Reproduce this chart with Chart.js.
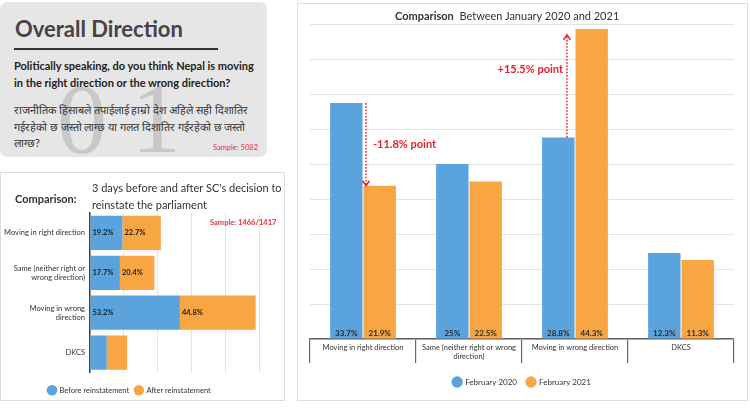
<!DOCTYPE html>
<html>
<head>
<meta charset="utf-8">
<script src="https://cdn.jsdelivr.net/npm/chart.js@4.4.1/dist/chart.umd.min.js"></script>
<style>
body { margin:0; width:750px; height:414px; background:#fff; position:relative; overflow:hidden; font-family:Lato, "DejaVu Sans", sans-serif; color:#333; }
.abs { position:absolute; white-space:nowrap; z-index:2; }
#card { position:absolute; left:0; top:2px; width:267px; height:155px; background:#e6e6e6; border-radius:7px; overflow:hidden; }
#big01 { position:absolute; left:0; top:0; z-index:1; }
.box { position:absolute; border:1.5px solid #dcdcdc; box-sizing:border-box; }
canvas { position:absolute; }
</style>
</head>
<body>
<div id="card">
  <svg id="big01" width="267" height="155"><text x="57" y="150" font-family="Liberation Serif, DejaVu Serif, serif" font-size="100" fill="#c8c8c8" textLength="124" lengthAdjust="spacing">01</text></svg>
  <div class="abs" style="left:15px;top:13px;font-size:22px;font-weight:700;color:#444;">Overall Direction</div>
  <div class="abs" style="left:14px;top:45.5px;width:204px;height:2.5px;background:#333;"></div>
  <div class="abs" style="left:14px;top:56px;font-size:11px;font-weight:700;line-height:16.5px;color:#222;">Politically speaking, do you think Nepal is moving<br>in the right direction or the wrong direction?</div>
  <div class="abs" style="left:14px;top:100px;font-size:11px;line-height:16.5px;color:#333;">राजनीतिक हिसाबले तपाईलाई हाम्रो देश अहिले सही दिशातिर<br>गईरहेको छ जस्तो लाग्छ या गलत दिशातिर गईरहेको छ जस्तो<br>लाग्छ?</div>
  <div class="abs" style="right:9px;top:141px;font-size:7.5px;color:#e8303c;">Sample: 5082</div>
</div>

<div class="box" style="left:0;top:172px;width:285px;height:229px;"></div>
<div class="abs" style="left:15px;top:192px;font-size:11px;font-weight:700;color:#333;">Comparison:</div>
<div class="abs" style="left:92px;top:180px;font-size:11px;line-height:16.5px;color:#333;">3 days before and after SC's decision to<br>reinstate the parliament</div>
<div class="abs" style="left:210px;top:218px;font-size:7.5px;font-weight:700;color:#e8303c;">Sample: 1466/1417</div>
<canvas id="sc" width="285" height="232" style="left:0;top:172px;"></canvas>

<div class="box" style="left:297px;top:3px;width:451px;height:398px;"></div>
<div class="abs" style="left:395px;top:9px;font-size:11px;color:#333;"><b>Comparison</b>&nbsp;&nbsp;Between January 2020 and 2021</div>
<canvas id="yr" width="451" height="397" style="left:297px;top:3px;"></canvas>

<script>
// right chart: February 2020 vs February 2021
const yrCats = ['Moving in right direction', ['Same (neither right or wrong', 'direction)'], 'Moving in wrong direction', 'DKCS'];
const feb2020 = [33.7, 25, 28.8, 12.3];
const feb2021 = [21.9, 22.5, 44.3, 11.3];
const yrTicks = [0, 5, 10, 15, 20, 25, 30, 35, 40, 45];
const shifts = [{cat: 0, text: '-11.8% point'}, {cat: 2, text: '+15.5% point'}];

// left chart: before / after SC decision
const scCats = ['Moving in right direction', ['Same (neither right or', 'wrong direction)'], ['Moving in wrong', 'direction'], 'DKCS'];
const beforeSC = [19.2, 17.7, 53.2, 9.9];
const afterSC = [22.7, 20.4, 44.8, 12.1];
const scShowVal = [true, true, true, false];

const BLUE = '#5ba3dc', ORANGE = '#f8a543', RED = '#e8202a';
Chart.defaults.font.family = 'Lato, "DejaVu Sans", sans-serif';
Chart.defaults.color = '#333';

const bottomVals = {
  id: 'bottomVals',
  afterDatasetsDraw(chart) {
    const ctx = chart.ctx;
    ctx.save();
    ctx.font = 'bold 8px Lato';
    ctx.fillStyle = '#2a2a2a';
    ctx.textAlign = 'center';
    ctx.textBaseline = 'middle';
    chart.data.datasets.forEach((ds, i) => {
      chart.getDatasetMeta(i).data.forEach((bar, j) => {
        ctx.fillText(ds.data[j] + '%', bar.x, chart.chartArea.bottom - 6);
      });
    });
    ctx.restore();
  }
};

function dotArrow(ctx, x, y0, y1) {
  ctx.beginPath();
  ctx.setLineDash([1.6, 1.6]);
  ctx.moveTo(x, y0);
  ctx.lineTo(x, y1);
  ctx.stroke();
  ctx.setLineDash([]);
  const d = y1 > y0 ? -1 : 1;
  ctx.beginPath();
  ctx.moveTo(x - 3.5, y1 + d * 5);
  ctx.lineTo(x, y1);
  ctx.lineTo(x + 3.5, y1 + d * 5);
  ctx.stroke();
}

const shiftArrows = {
  id: 'shiftArrows',
  afterDatasetsDraw(chart) {
    const ctx = chart.ctx;
    const b = chart.getDatasetMeta(0).data, o = chart.getDatasetMeta(1).data;
    ctx.save();
    ctx.strokeStyle = RED;
    ctx.fillStyle = RED;
    ctx.lineWidth = 1.5;
    ctx.font = 'bold 11px Lato';
    ctx.textBaseline = 'middle';
    shifts.forEach(s => {
      const bb = b[s.cat], ob = o[s.cat];
      if (ob.y > bb.y) {
        const x = ob.x - ob.width / 2 + 2.5;
        dotArrow(ctx, x, bb.y, ob.y);
        ctx.textAlign = 'left';
        ctx.fillText(s.text, x + 7, (bb.y + ob.y) / 2);
      } else {
        const x = bb.x + bb.width / 2 - 7.5;
        const top = ob.y + 6;
        dotArrow(ctx, x, bb.y, top);
        ctx.textAlign = 'right';
        ctx.fillText(s.text, x - 4, bb.y - (bb.y - top) * 0.66);
      }
    });
    ctx.restore();
  }
};

new Chart(document.getElementById('yr'), {
  type: 'bar',
  data: {
    labels: yrCats,
    datasets: [
      {label: 'February 2020', data: feb2020, backgroundColor: BLUE},
      {label: 'February 2021', data: feb2021, backgroundColor: ORANGE}
    ]
  },
  options: {
    responsive: false,
    animation: false,
    layout: {padding: {left: 13, right: 14, top: 21, bottom: 4}},
    datasets: {bar: {categoryPercentage: 0.63, barPercentage: 0.97}},
    scales: {
      x: {
        grid: {drawOnChartArea: false, tickLength: 24, color: '#666', lineWidth: 1.2},
        border: {color: '#666', width: 1.5},
        ticks: {padding: -20, font: {size: 7.5}, color: '#333', maxRotation: 0},
        afterFit: s => { s.height = 29; }
      },
      y: {
        min: 0, max: 45,
        afterBuildTicks: s => { s.ticks = yrTicks.map(v => ({value: v})); },
        ticks: {display: false},
        grid: {drawTicks: false, color: '#e4e4e4'},
        border: {display: false},
        afterFit: s => { s.width = 0; }
      }
    },
    plugins: {
      legend: {position: 'bottom', labels: {usePointStyle: true, pointStyle: 'circle', boxWidth: 8, boxHeight: 8, padding: 10, font: {size: 8}, color: '#333'}},
      tooltip: {enabled: false}
    }
  },
  plugins: [bottomVals, shiftArrows]
});

const startVals = {
  id: 'startVals',
  afterDatasetsDraw(chart) {
    const ctx = chart.ctx;
    ctx.save();
    ctx.font = 'bold 7.5px Lato';
    ctx.fillStyle = '#222';
    ctx.textAlign = 'left';
    ctx.textBaseline = 'middle';
    chart.data.datasets.forEach((ds, i) => {
      chart.getDatasetMeta(i).data.forEach((bar, j) => {
        if (scShowVal[j]) ctx.fillText(ds.data[j] + '%', bar.base + 2, bar.y);
      });
    });
    ctx.restore();
  }
};

new Chart(document.getElementById('sc'), {
  type: 'bar',
  data: {
    labels: scCats,
    datasets: [
      {label: 'Before reinstatement', data: beforeSC, backgroundColor: BLUE},
      {label: 'After reinstatement', data: afterSC, backgroundColor: ORANGE}
    ]
  },
  options: {
    indexAxis: 'y',
    responsive: false,
    animation: false,
    layout: {padding: {left: 0, right: 26, top: 41, bottom: 0}},
    datasets: {bar: {categoryPercentage: 1, barPercentage: 0.86}},
    scales: {
      x: {
        stacked: true, min: 0, max: 100,
        ticks: {display: false, stepSize: 20},
        grid: {drawTicks: false, color: '#e4e4e4'},
        border: {display: false},
        afterFit: s => { s.height = 8; }
      },
      y: {
        stacked: true,
        ticks: {font: {size: 7.5}, color: '#333', padding: 5},
        grid: {display: false, drawTicks: false},
        border: {color: '#444', width: 1.5},
        afterFit: s => { s.width = 90; }
      }
    },
    plugins: {
      legend: {position: 'bottom', labels: {usePointStyle: true, pointStyle: 'circle', boxWidth: 7.5, boxHeight: 7.5, padding: 6, font: {size: 7.5}, color: '#333'}},
      tooltip: {enabled: false}
    }
  },
  plugins: [startVals]
});
</script>
</body>
</html>
